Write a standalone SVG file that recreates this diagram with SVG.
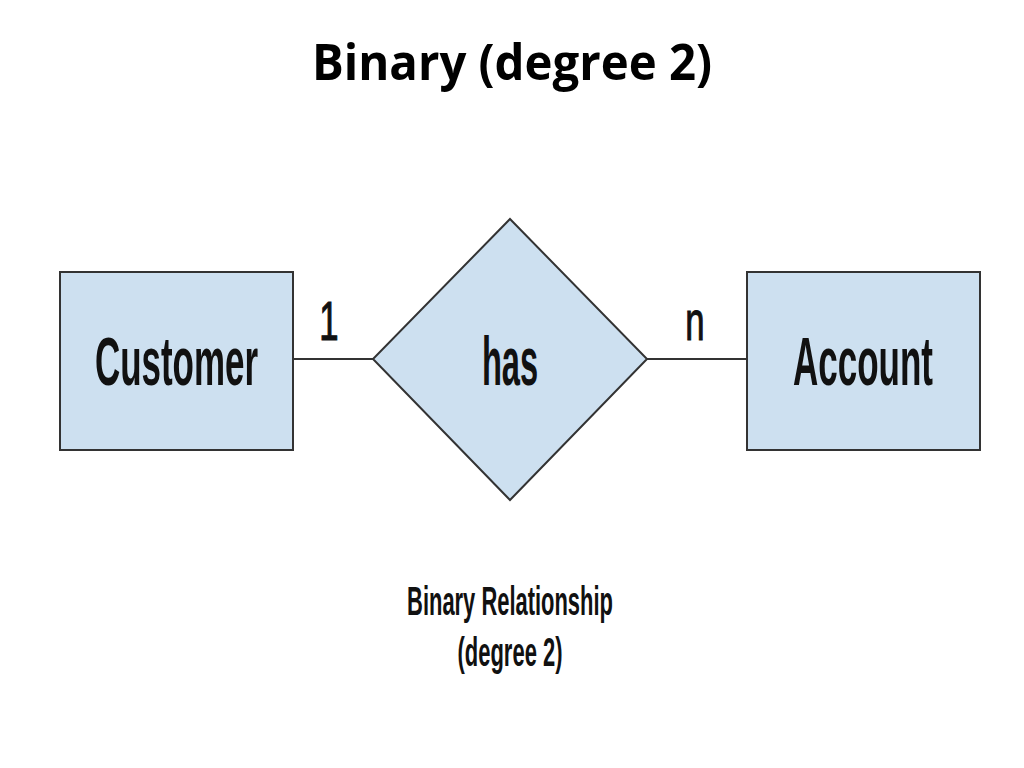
<svg xmlns="http://www.w3.org/2000/svg" width="1024" height="768" viewBox="0 0 1024 768">
<style>
.shape{fill:#cde0f0;stroke:#333;stroke-width:2}
.conn{stroke:#333;stroke-width:2;fill:none}
.lbl{font-family:"Liberation Sans",Arial,sans-serif;font-weight:bold;fill:#111;text-anchor:middle}
.card{font-family:"Liberation Sans",Arial,sans-serif;fill:#111;stroke:#111;stroke-width:1.2;text-anchor:middle}
.title{font-family:"Open Sans","Liberation Sans",sans-serif;font-weight:bold;fill:#000;text-anchor:middle}
</style>
<rect width="1024" height="768" fill="#fff"/>
<text class="title" x="512" y="80" font-size="50" textLength="400" lengthAdjust="spacingAndGlyphs">Binary (degree 2)</text>
<g id="connectors">
<line class="conn" x1="293" y1="359" x2="373" y2="359"/>
<line class="conn" x1="647" y1="359" x2="747" y2="359"/>
<text class="card" transform="translate(329,340) scale(0.62,1)" font-size="56">1</text>
<text class="card" transform="translate(695,340) scale(0.62,1)" font-size="56">n</text>
</g>
<g id="customer">
<rect class="shape" x="60" y="272" width="233" height="178"/>
<text class="lbl" transform="translate(176.5,385) scale(0.514,1)" font-size="68">Customer</text>
</g>
<g id="has">
<polygon class="shape" points="510,219 647,359 510,500 373,359"/>
<text class="lbl" transform="translate(510,385) scale(0.48,1)" font-size="68">has</text>
</g>
<g id="account">
<rect class="shape" x="747" y="272" width="233" height="178"/>
<text class="lbl" transform="translate(863,385) scale(0.515,1)" font-size="68">Account</text>
</g>
<g id="caption">
<text class="lbl" transform="translate(510,615) scale(0.535,1)" font-size="41">Binary Relationship</text>
<text class="lbl" transform="translate(510,666) scale(0.536,1)" font-size="41">(degree 2)</text>
</g>
</svg>
